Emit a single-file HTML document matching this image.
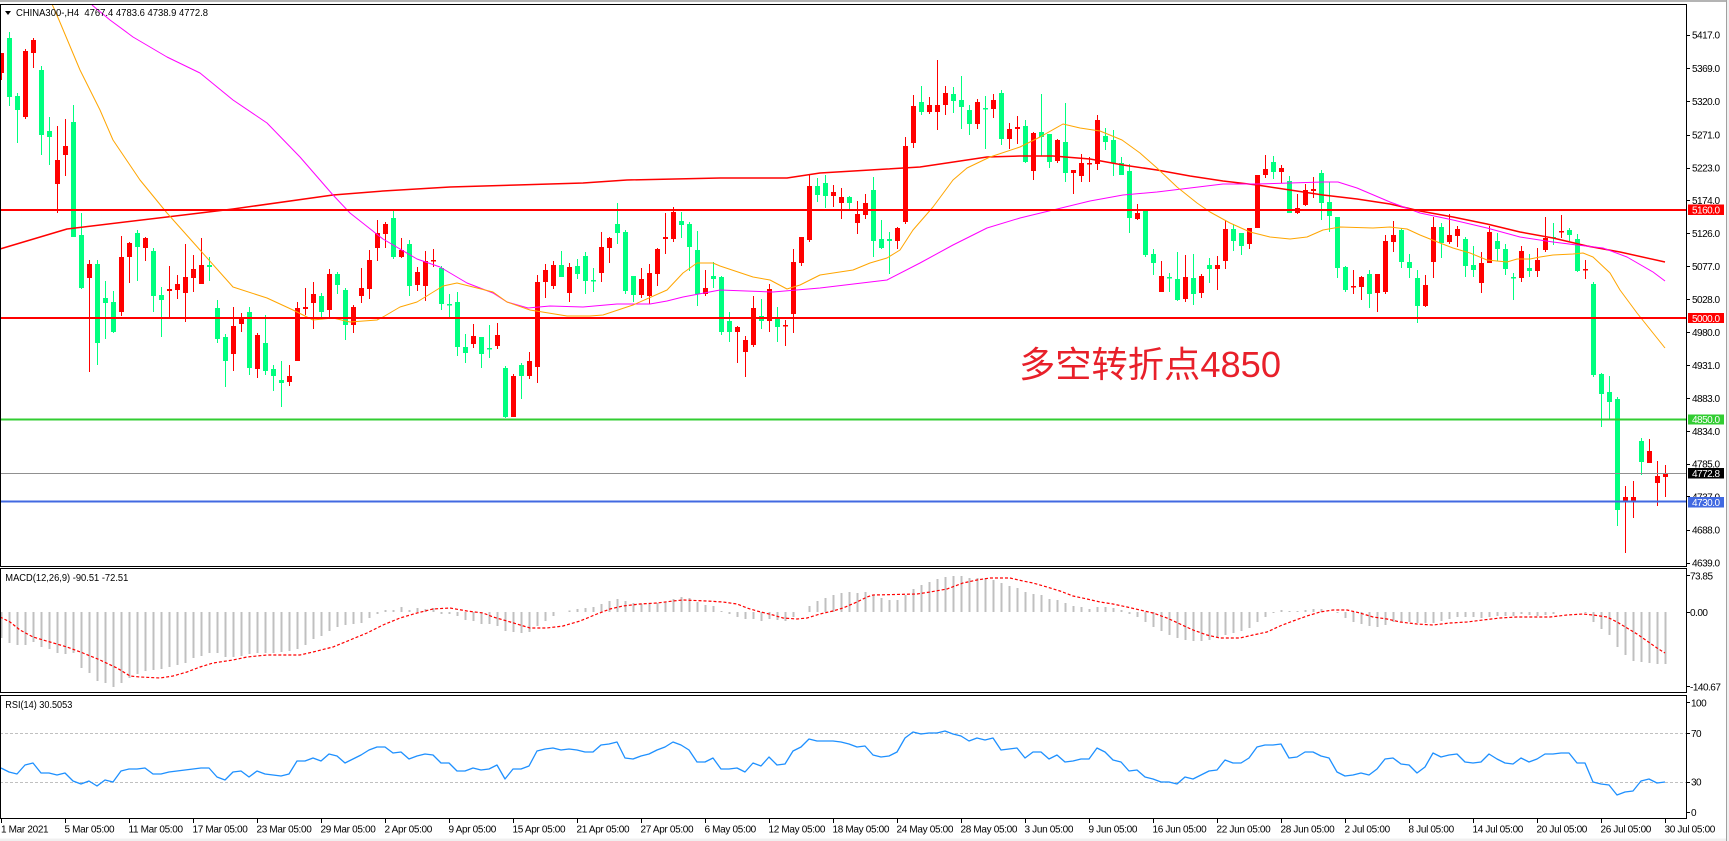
<!DOCTYPE html>
<html><head><meta charset="utf-8"><style>
html,body{margin:0;padding:0;background:#fff;overflow:hidden}
svg{display:block}
text{font-family:"Liberation Sans",sans-serif;font-size:10px;fill:#000}
.ax{letter-spacing:-0.5px}
.dt{letter-spacing:-0.33px}
</style></head><body>
<svg width="1729" height="841" viewBox="0 0 1729 841" xmlns="http://www.w3.org/2000/svg">
<defs>
<clipPath id="cm"><rect x="1" y="5" width="1685" height="561"/></clipPath>
<clipPath id="cd"><rect x="1" y="569" width="1685" height="123"/></clipPath>
<clipPath id="cr"><rect x="1" y="696" width="1685" height="122"/></clipPath>
</defs>
<rect x="0" y="0" width="1729" height="841" fill="#fff"/>
<rect x="0" y="0" width="1729" height="2" fill="#b4b4b4"/>
<rect x="0" y="838.5" width="1729" height="3" fill="#f0f0f0"/>
<rect x="1726" y="0" width="1" height="841" fill="#a0a0a0"/>
<rect x="1727" y="0" width="2" height="841" fill="#f0f0f0"/>

<!-- main panel -->
<g clip-path="url(#cm)">
<g shape-rendering="crispEdges" fill="none">
<path stroke="#ff0000" stroke-width="1" d="M1.5 53V80M25.5 49V119M33.5 38V68M57.5 126V213M65.5 119V176M89.5 260V372M121.5 236V316M129.5 242V283M145.5 237V261M169.5 266V317M177.5 275V299M185.5 244V322M193.5 255V292M201.5 238V284M233.5 307V371M241.5 313V332M257.5 333V378M289.5 365V386M297.5 302V361M305.5 288V315M313.5 282V329M329.5 269V317M353.5 305V333M361.5 268V303M369.5 250V299M377.5 220V261M385.5 222V248M401.5 238V258M417.5 267V291M425.5 251V301M433.5 249V267M473.5 324V348M497.5 323V349M513.5 374V417M529.5 352V379M537.5 275V383M545.5 264V298M553.5 261V289M569.5 263V302M601.5 232V282M609.5 237V263M641.5 268V298M649.5 264V304M657.5 248V286M665.5 213V254M673.5 207V242M705.5 270V296M737.5 326V363M745.5 336V377M753.5 296V347M769.5 284V332M785.5 320V346M793.5 249V333M801.5 237V266M809.5 175V242M833.5 185V207M841.5 188V219M857.5 201V234M865.5 194V219M897.5 227V249M905.5 137V224M913.5 95V148M929.5 97V114M937.5 60V130M945.5 86V115M977.5 99V129M993.5 94V118M1009.5 123V149M1017.5 116V144M1033.5 132V180M1057.5 139V163M1073.5 170V194M1081.5 154V182M1089.5 157V182M1097.5 115V170M1137.5 204V220M1161.5 261V292M1185.5 255V302M1201.5 274V298M1217.5 256V290M1225.5 220V269M1249.5 228V249M1257.5 175V228M1265.5 155V178M1281.5 165V183M1297.5 194V214M1305.5 184V206M1313.5 177V198M1353.5 270V294M1361.5 276V300M1377.5 274V312M1385.5 235V294M1393.5 221V252M1425.5 275V307M1433.5 217V278M1449.5 214V244M1457.5 226V247M1481.5 252V293M1489.5 226V263M1521.5 246V282M1537.5 248V277M1545.5 217V252M1561.5 215V238M1585.5 260V279M1625.5 486V553M1633.5 481V518M1649.5 439V463M1657.5 461V506M1665.5 465V497"/>
<path stroke="#ff0000" stroke-width="5" d="M1.5 53V73M25.5 51V117M33.5 40V53M57.5 160V184M65.5 146V155M89.5 264V278M121.5 257V312M129.5 243V257M145.5 238V248M169.5 289V291M177.5 284V290M185.5 277V293M193.5 269V278M201.5 265V284M233.5 326V354M241.5 318V324M257.5 335V369M289.5 376V382M297.5 308V361M305.5 307V309M313.5 294V303M329.5 274V310M353.5 307V325M361.5 288V296M369.5 260V289M377.5 233V248M385.5 224V234M401.5 250V257M417.5 272V285M425.5 261V286M433.5 260V261.5M473.5 336V344M497.5 335V346M513.5 376V417M529.5 361V376M537.5 282V367M545.5 270V282M553.5 265V286M569.5 267V293M601.5 247V273M609.5 238V248M641.5 279V295M649.5 273V296M657.5 249V274M665.5 237V239M673.5 212V239M705.5 288V294M737.5 327V332M745.5 340V352M753.5 308V345M769.5 289V321M785.5 325V326.5M793.5 262V314M801.5 237V263M809.5 186V240M833.5 192V196M841.5 197V203M857.5 214V223M865.5 203V215M897.5 228V241M905.5 146V222M913.5 106V143M929.5 105V112M937.5 105V112M945.5 93V105M977.5 102V124M993.5 100V109M1009.5 129V139M1017.5 127V129M1033.5 133V171M1057.5 140V161M1073.5 170V173M1081.5 163V176M1089.5 163V164.5M1097.5 120V164M1137.5 213V219M1161.5 276V292M1185.5 277V299M1201.5 276V293M1217.5 265V269M1225.5 229V261M1249.5 228V244M1257.5 175V228M1265.5 169V175M1281.5 168V172M1297.5 208V213M1305.5 190V205M1313.5 189V191M1353.5 286V287.5M1361.5 277V287M1377.5 274V293M1385.5 241V292M1393.5 235V242M1425.5 285V306M1433.5 227V262M1449.5 235V242M1457.5 229V236M1481.5 263V283M1489.5 232V263M1521.5 251V278M1537.5 260V271M1545.5 238V250M1561.5 231V232.5M1585.5 269V270.5M1625.5 497V501M1633.5 497V501M1649.5 451V463M1657.5 476V483M1665.5 473V477"/>
<path stroke="#00ff7f" stroke-width="1" d="M9.5 32V106M17.5 93V143M41.5 66V155M49.5 117V165M73.5 105V237M81.5 213V289M97.5 260V365M105.5 281V339M113.5 291V333M137.5 230V281M153.5 248V312M161.5 287V337M209.5 257V281M217.5 300V343M225.5 334V387M249.5 307V375M265.5 315V375M273.5 365V391M281.5 361V407M321.5 293V317M337.5 272V294M345.5 288V340M393.5 211V259M409.5 240V296M441.5 266V310M449.5 294V317M457.5 292V356M465.5 334V363M481.5 337V368M489.5 325V358M505.5 366V418M521.5 363V399M561.5 251V277M577.5 259V279M585.5 252V294M593.5 268V292M617.5 203V244M625.5 230V294M633.5 276V302M681.5 212V238M689.5 222V271M697.5 231V306M713.5 262V288M721.5 276V335M729.5 312V342M761.5 299V329M777.5 307V342M817.5 178V202M825.5 175V208M849.5 196V209M873.5 177V257M881.5 220V249M889.5 232V274M921.5 86V115M953.5 87V113M961.5 76V129M969.5 105V135M985.5 96V149M1001.5 90V145M1025.5 120V163M1041.5 94V156M1049.5 134V168M1065.5 103V182M1105.5 128V150M1113.5 130V176M1121.5 157V175M1129.5 164V233M1145.5 211V257M1153.5 249V275M1169.5 273V292M1177.5 252V301M1193.5 254V305M1209.5 258V283M1233.5 224V251M1241.5 233V255M1273.5 156V179M1289.5 176V213M1321.5 170V220M1329.5 182V232M1337.5 217V278M1345.5 266V292M1369.5 270V308M1401.5 228V268M1409.5 254V278M1417.5 270V323M1441.5 223V258M1465.5 237V277M1473.5 246V277M1497.5 233V261M1505.5 244V275M1513.5 273V300M1529.5 254V277M1553.5 223V245M1569.5 228V241M1577.5 234V272M1593.5 282V377M1601.5 373V427M1609.5 376V419M1617.5 397V526M1641.5 438V475"/>
<path stroke="#00ff7f" stroke-width="5" d="M9.5 38V97M17.5 96V110M41.5 70V135M49.5 131V137M73.5 122V237M81.5 235V288M97.5 264V343M105.5 298V303M113.5 302V332M137.5 233V247M153.5 251V296M161.5 295V300M209.5 265V267M217.5 308V339M225.5 337V361M249.5 312V368M265.5 343V371M273.5 369V376M281.5 380V383M321.5 296V312M337.5 274V285M345.5 290V325M393.5 218V257M409.5 244V286M441.5 268V304M449.5 304V305.5M457.5 302V347M465.5 347V353M481.5 337V354M489.5 348V349.5M505.5 368V417M521.5 365V376M561.5 265V277M577.5 266V274M585.5 256V281M593.5 280V281.5M617.5 224V233M625.5 232V291M633.5 276V295M681.5 221V225M689.5 224V247M697.5 250V294M713.5 276V279M721.5 277V332M729.5 321V332M761.5 316V321M777.5 319V327M817.5 186V195M825.5 183V196M849.5 197V203M873.5 190V241M881.5 239V248M889.5 239V241M921.5 102V112M953.5 94V101M961.5 100V107M969.5 110V124M985.5 108V109.5M1001.5 93V139M1025.5 126V162M1041.5 132V137M1049.5 134V162M1065.5 142V173M1105.5 136V142M1113.5 140V163M1121.5 163V175M1129.5 171V218M1145.5 211V255M1153.5 254V263M1169.5 277V278.5M1177.5 279V300M1193.5 278V294M1209.5 265V269M1233.5 229V241M1241.5 233V246M1273.5 162V172M1289.5 181V213M1321.5 173V203M1329.5 202V216M1337.5 217V268M1345.5 267V290M1369.5 274V294M1401.5 230V262M1409.5 262V268M1417.5 278V306M1441.5 227V243M1465.5 239V266M1473.5 265V270M1497.5 241V249M1505.5 249V269M1513.5 277V278.5M1529.5 268V271M1553.5 237V238.5M1569.5 230V235M1577.5 239V271M1593.5 284V375M1601.5 374V394M1609.5 392V402M1617.5 399V510M1641.5 441V462"/>
</g>
<g fill="none" stroke-linejoin="round">
<polyline stroke="#ff0000" stroke-width="1.5" points="0,249 67,229 167,217 233,209 333,195 383,191 450,187 517,185 583,183 627,180 720,178 787,178 820,173 887,169 920,167 987,157 1020,156 1053,156 1090,159 1123,165 1157,170 1190,176 1223,181 1257,185 1290,190 1323,195 1357,199 1390,204 1420,211 1453,217 1487,224 1520,232 1553,238 1587,246 1620,252 1665,262"/>
<polyline stroke="#ff00ff" stroke-width="1" points="92,5 110,20 133,37 167,57 200,73 233,100 267,123 300,157 333,195 350,213 383,239 417,259 440,267 467,283 493,293 507,302 528,308 550,306 583,307 617,304 650,304 667,301 683,297 720,290 773,292 820,288 887,280 920,263 953,245 987,228 1020,218 1053,210 1090,201 1123,195 1157,192 1190,188 1223,184 1257,184 1290,183 1323,182 1338,182 1357,188 1390,202 1420,213 1453,220 1487,228 1520,237 1553,242 1577,245 1603,248 1627,257 1653,272 1665,281"/>
<polyline stroke="#ffa500" stroke-width="1" points="52,4 59,20 80,70 100,110 113,140 140,180 167,213 200,250 233,287 267,298 293,310 313,320 333,318 350,322 377,320 383,317 400,307 417,302 443,286 457,283 477,288 493,292 507,302 530,310 567,316 590,316 603,315 633,305 667,290 683,273 697,263 713,263 720,266 753,277 770,280 787,289 800,285 820,275 853,270 870,263 887,258 900,250 913,230 933,207 953,180 967,168 990,157 1020,147 1040,137 1063,124 1080,128 1100,131 1122,140 1140,153 1157,168 1177,187 1197,203 1210,212 1230,223 1250,232 1270,237 1290,239 1307,237 1323,230 1340,227 1373,228 1390,227 1407,229 1420,235 1440,243 1453,248 1470,253 1487,260 1507,262 1517,259 1530,259 1540,257 1553,255 1573,254 1583,253 1593,257 1610,273 1620,290 1637,313 1653,333 1665,348"/>
</g>
</g>
<g shape-rendering="crispEdges">
<rect x="0" y="209" width="1686" height="2" fill="#ff0000"/>
<rect x="0" y="317" width="1686" height="2" fill="#ff0000"/>
<rect x="0" y="418.5" width="1686" height="2" fill="#32cd32"/>
<rect x="0" y="473" width="1686" height="1" fill="#909090"/>
<rect x="0" y="500.7" width="1686" height="2" fill="#4169e1"/>
</g>
<text x="1019" y="377" textLength="262" lengthAdjust="spacingAndGlyphs" style='font-family:"Liberation Sans","Noto Sans CJK SC",sans-serif;font-size:36px;fill:#e8202a'>多空转折点4850</text>

<!-- header -->
<polygon points="5,11 11,11 8,15" fill="#000"/>
<text x="16" y="16" textLength="192" lengthAdjust="spacingAndGlyphs" style="white-space:pre">CHINA300-,H4  4767.4 4783.6 4738.9 4772.8</text>

<!-- MACD -->
<g clip-path="url(#cd)">
<path fill="none" stroke="#c0c0c0" stroke-width="2" shape-rendering="crispEdges" d="M1.5 612V638M9.5 612V643M17.5 612V645M25.5 612V645M33.5 612V642M41.5 612V647M49.5 612V649M57.5 612V653M65.5 612V654M73.5 612V653M81.5 612V668M89.5 612V673M97.5 612V681M105.5 612V683M113.5 612V687M121.5 612V683M129.5 612V678M137.5 612V674M145.5 612V671M153.5 612V670M161.5 612V669M169.5 612V667M177.5 612V665M185.5 612V663M193.5 612V658M201.5 612V656M209.5 612V653M217.5 612V653M225.5 612V657M233.5 612V657M241.5 612V656M249.5 612V654M257.5 612V653M265.5 612V653M273.5 612V653M281.5 612V652M289.5 612V651M297.5 612V649M305.5 612V645M313.5 612V639M321.5 612V636M329.5 612V631M337.5 612V627M345.5 612V625M353.5 612V624M361.5 612V623M369.5 612V618M377.5 612V614M385.5 612V610M393.5 612V610M401.5 612V607M409.5 612V610M417.5 612V608M425.5 612V609M433.5 612V608M441.5 612V614M449.5 612V614M457.5 612V616M465.5 612V620M473.5 612V621M481.5 612V624M489.5 612V624M497.5 612V626M505.5 612V631M513.5 612V632M521.5 612V633M529.5 612V632M537.5 612V626M545.5 612V621M553.5 612V616M569.5 612V610.5M577.5 612V609M585.5 612V608M593.5 612V607M601.5 612V604M609.5 612V601M617.5 612V599M625.5 612V601M633.5 612V603M641.5 612V604M649.5 612V603M657.5 612V603M665.5 612V602M673.5 612V599M681.5 612V597M689.5 612V598M697.5 612V602M705.5 612V605M713.5 612V606M721.5 612V611M729.5 612V614M737.5 612V617M745.5 612V619M753.5 612V619M761.5 612V621M769.5 612V619M777.5 612V620M785.5 612V621M793.5 612V617M809.5 612V606M817.5 612V601M825.5 612V598M833.5 612V595M841.5 612V593M849.5 612V592M857.5 612V593M865.5 612V592M873.5 612V595M881.5 612V598M889.5 612V600M897.5 612V600M905.5 612V595M913.5 612V589M921.5 612V585M929.5 612V582M937.5 612V579M945.5 612V577M953.5 612V576M961.5 612V576M969.5 612V578M977.5 612V578M985.5 612V578M993.5 612V580M1001.5 612V583M1009.5 612V586M1017.5 612V588M1025.5 612V592M1033.5 612V594M1041.5 612V595M1049.5 612V599M1057.5 612V600M1065.5 612V603M1073.5 612V606M1081.5 612V607M1089.5 612V609M1097.5 612V607M1105.5 612V607M1113.5 612V608M1121.5 612V610M1129.5 612V614M1137.5 612V617M1145.5 612V622M1153.5 612V627M1161.5 612V631M1169.5 612V635M1177.5 612V638M1185.5 612V640M1193.5 612V641M1201.5 612V641M1209.5 612V640M1217.5 612V638M1225.5 612V635M1233.5 612V633M1241.5 612V631M1249.5 612V628M1257.5 612V622M1265.5 612V617M1273.5 612V613M1281.5 612V610M1289.5 612V611M1297.5 612V611M1305.5 612V610M1313.5 612V609M1321.5 612V609M1337.5 612V613M1345.5 612V618M1353.5 612V622M1361.5 612V624M1369.5 612V626M1377.5 612V627M1385.5 612V625M1393.5 612V622M1401.5 612V622M1409.5 612V622M1417.5 612V623M1425.5 612V623M1433.5 612V623M1441.5 612V621M1449.5 612V619M1457.5 612V617M1465.5 612V617M1473.5 612V617M1481.5 612V618M1489.5 612V617M1497.5 612V616M1505.5 612V616M1513.5 612V616M1521.5 612V614M1529.5 612V615M1537.5 612V616M1545.5 612V615M1553.5 612V614M1585.5 612V613M1593.5 612V622M1601.5 612V629M1609.5 612V635M1617.5 612V647M1625.5 612V655M1633.5 612V661M1641.5 612V662M1649.5 612V663M1657.5 612V664M1665.5 612V664"/>
<polyline fill="none" stroke="#ff0000" stroke-width="1.2" stroke-dasharray="3 2" points="0,617 10,622 20,630 33,637 50,642 67,647 83,653 100,660 117,668 130,676 140,677 160,678 173,676 187,672 200,667 213,663 233,660 247,657 267,655 300,655 313,652 333,647 350,640 367,633 383,625 400,618 417,613 433,609 450,608 467,611 483,613 493,617 507,621 517,624 530,628 547,628 563,626 580,621 597,614 610,609 623,606 640,604 657,603 673,601 683,600 707,601 723,602 737,604 747,608 757,611 773,615 783,618 797,619 807,618 820,614 833,611 843,608 857,602 867,597 873,595 917,594 930,592 947,589 963,583 977,580 990,578 1010,578 1023,581 1033,583 1047,587 1060,591 1073,596 1087,599 1100,602 1113,604 1127,607 1140,610 1153,613 1167,618 1180,624 1193,630 1207,635 1220,638 1240,638 1253,635 1267,632 1280,626 1293,621 1307,616 1320,612 1333,610 1347,610 1360,613 1373,617 1387,619 1400,622 1417,624 1433,625 1450,623 1467,622 1483,620 1500,618 1517,617 1533,617 1550,617 1567,615 1583,614 1593,615 1607,617 1617,622 1627,628 1637,634 1647,641 1657,648 1665,653"/>
</g>
<text x="5.3" y="581" textLength="123" lengthAdjust="spacingAndGlyphs">MACD(12,26,9) -90.51 -72.51</text>

<!-- RSI -->
<g clip-path="url(#cr)">
<line x1="0" y1="733.5" x2="1686" y2="733.5" stroke="#c0c0c0" stroke-width="1" stroke-dasharray="3 2"/>
<line x1="0" y1="782.5" x2="1686" y2="782.5" stroke="#c0c0c0" stroke-width="1" stroke-dasharray="3 2"/>
<polyline fill="none" stroke="#1e90ff" stroke-width="1.3" stroke-linejoin="round" points="1,768 9,772 17,774 25,765 33,763 41,773 49,773 57,775 65,773 73,781 81,784 89,781 97,786 105,780 113,782 121,771 129,769 137,769 145,768 153,774 161,774 169,772 177,771 185,770 193,769 201,768 209,768 217,777 225,780 233,772 241,771 249,777 257,771 265,774 273,775 281,776 289,774 297,761 305,761 313,758 321,761 329,754 337,756 345,763 353,759 361,755 369,750 377,747 385,747 393,753 401,752 409,759 417,756 425,754 433,755 441,763 449,763 457,771 465,771 473,768 481,770 489,769 497,765 505,779 513,769 521,769 529,766 537,751 545,749 553,748 561,750 569,749 577,750 585,752 593,752 601,745 609,744 617,742 625,758 633,759 641,756 649,754 657,750 665,747 673,742 681,745 689,750 697,762 705,762 713,758 721,769 729,769 737,768 745,772 753,763 761,766 769,757 777,765 785,764 793,751 801,747 809,739 817,741 825,741 833,741 841,742 849,744 857,747 865,746 873,755 881,757 889,756 897,752 905,738 913,732 921,734 929,733 937,733 945,731 953,734 961,736 969,741 977,738 985,740 993,738 1001,750 1009,749 1017,748 1025,758 1033,752 1041,752 1049,759 1057,755 1065,762 1073,761 1081,759 1089,759 1097,748 1105,752 1113,760 1121,762 1129,771 1137,770 1145,777 1153,779 1161,782 1169,782 1177,784 1185,777 1193,779 1201,775 1209,771 1217,770 1225,760 1233,763 1241,763 1249,758 1257,747 1265,745 1273,745 1281,744 1289,758 1297,757 1305,752 1313,752 1321,756 1329,758 1337,772 1345,776 1353,775 1361,773 1369,775 1377,769 1385,759 1393,758 1401,764 1409,765 1417,773 1425,767 1433,753 1441,757 1449,755 1457,754 1465,762 1473,763 1481,762 1489,754 1497,759 1505,763 1513,764 1521,758 1529,762 1537,759 1545,754 1553,754 1561,753 1569,753 1577,763 1585,763 1593,782 1601,784 1609,785 1617,795 1625,792 1633,791 1641,781 1649,779 1657,783 1665,782"/>
</g>
<text x="5.3" y="708" textLength="67" lengthAdjust="spacingAndGlyphs">RSI(14) 30.5053</text>

<!-- panel borders -->
<g fill="none" stroke="#000" stroke-width="1" shape-rendering="crispEdges">
<rect x="0.5" y="4.5" width="1686" height="562"/>
<rect x="0.5" y="568.5" width="1686" height="124"/>
<rect x="0.5" y="695.5" width="1686" height="123"/>
<path d="M1686 35.5h4M1686 68.5h4M1686 101.5h4M1686 135.5h4M1686 168.5h4M1686 200.5h4M1686 233.5h4M1686 266.5h4M1686 299.5h4M1686 332.5h4M1686 365.5h4M1686 398.5h4M1686 431.5h4M1686 464.5h4M1686 496.5h4M1686 530.5h4M1686 563.5h4M1686 575.5h4M1686 612.5h4M1686 686.5h4M1686 702.5h4M1686 733.5h4M1686 782.5h4M1686 812.5h4"/>
<path d="M1.5 819v4M65.5 819v4M129.5 819v4M193.5 819v4M257.5 819v4M321.5 819v4M385.5 819v4M449.5 819v4M513.5 819v4M577.5 819v4M641.5 819v4M705.5 819v4M769.5 819v4M833.5 819v4M897.5 819v4M961.5 819v4M1025.5 819v4M1089.5 819v4M1153.5 819v4M1217.5 819v4M1281.5 819v4M1345.5 819v4M1409.5 819v4M1473.5 819v4M1537.5 819v4M1601.5 819v4M1665.5 819v4"/>
</g>

<!-- price axis -->
<g class="ax">
<text x="1692" y="38.5">5417.0</text>
<text x="1692" y="71.8">5369.0</text>
<text x="1692" y="105.2">5320.0</text>
<text x="1692" y="138.5">5271.0</text>
<text x="1692" y="171.5">5223.0</text>
<text x="1692" y="204.2">5174.0</text>
<text x="1692" y="237.2">5126.0</text>
<text x="1692" y="270.2">5077.0</text>
<text x="1692" y="303.2">5028.0</text>
<text x="1692" y="335.8">4980.0</text>
<text x="1692" y="369.2">4931.0</text>
<text x="1692" y="401.8">4883.0</text>
<text x="1692" y="434.8">4834.0</text>
<text x="1692" y="467.5">4785.0</text>
<text x="1692" y="500.5">4737.0</text>
<text x="1692" y="533.5">4688.0</text>
<text x="1692" y="566.5">4639.0</text>
<rect x="1688" y="204.5" width="36" height="10.5" fill="#ff0000"/>
<text x="1692" y="213.5" style="fill:#fff">5160.0</text>
<rect x="1688" y="313" width="36" height="10" fill="#ff0000"/>
<text x="1692" y="321.8" style="fill:#fff">5000.0</text>
<rect x="1688" y="414.5" width="36" height="10" fill="#32cd32"/>
<text x="1692" y="423.2" style="fill:#fff">4850.0</text>
<rect x="1688" y="468" width="36" height="10.5" fill="#000"/>
<text x="1692" y="476.8" style="fill:#fff">4772.8</text>
<rect x="1688" y="497" width="36" height="10.5" fill="#4169e1"/>
<text x="1692" y="505.8" style="fill:#fff">4730.0</text>
<text x="1690" y="579.5">73.85</text>
<text x="1690" y="616">0.00</text>
<text x="1690" y="690.5">-140.67</text>
<text x="1691" y="706.5">100</text>
<text x="1691" y="737">70</text>
<text x="1691" y="785.7">30</text>
<text x="1691" y="816">0</text>
</g>

<!-- time axis -->
<g class="dt">
<text x="1" y="832.5">1 Mar 2021</text>
<text x="64.5" y="832.5">5 Mar 05:00</text>
<text x="128.5" y="832.5">11 Mar 05:00</text>
<text x="192.5" y="832.5">17 Mar 05:00</text>
<text x="256.5" y="832.5">23 Mar 05:00</text>
<text x="320.5" y="832.5">29 Mar 05:00</text>
<text x="384.5" y="832.5">2 Apr 05:00</text>
<text x="448.5" y="832.5">9 Apr 05:00</text>
<text x="512.5" y="832.5">15 Apr 05:00</text>
<text x="576.5" y="832.5">21 Apr 05:00</text>
<text x="640.5" y="832.5">27 Apr 05:00</text>
<text x="704.5" y="832.5">6 May 05:00</text>
<text x="768.5" y="832.5">12 May 05:00</text>
<text x="832.5" y="832.5">18 May 05:00</text>
<text x="896.5" y="832.5">24 May 05:00</text>
<text x="960.5" y="832.5">28 May 05:00</text>
<text x="1024.5" y="832.5">3 Jun 05:00</text>
<text x="1088.5" y="832.5">9 Jun 05:00</text>
<text x="1152.5" y="832.5">16 Jun 05:00</text>
<text x="1216.5" y="832.5">22 Jun 05:00</text>
<text x="1280.5" y="832.5">28 Jun 05:00</text>
<text x="1344.5" y="832.5">2 Jul 05:00</text>
<text x="1408.5" y="832.5">8 Jul 05:00</text>
<text x="1472.5" y="832.5">14 Jul 05:00</text>
<text x="1536.5" y="832.5">20 Jul 05:00</text>
<text x="1600.5" y="832.5">26 Jul 05:00</text>
<text x="1664.5" y="832.5">30 Jul 05:00</text>
</g>
</svg>
</body></html>
